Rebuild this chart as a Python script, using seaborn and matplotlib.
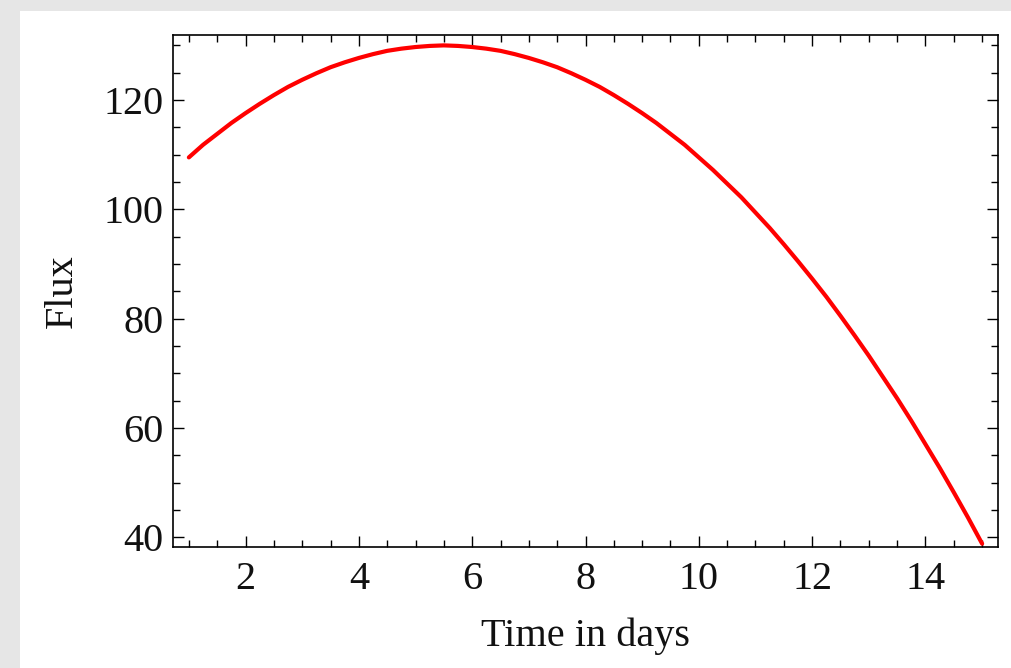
import matplotlib
matplotlib.use("Agg")
import matplotlib.pyplot as plt
from matplotlib.patches import Rectangle
from matplotlib.ticker import MultipleLocator
import seaborn as sns
import pandas as pd

# Data
time_days = [1.0, 1.25, 1.5, 1.75, 2.0, 2.25, 2.5, 2.75, 3.0, 3.25, 3.5, 3.75,
             4.0, 4.25, 4.5, 4.75, 5.0, 5.25, 5.5, 5.75, 6.0, 6.25, 6.5, 6.75,
             7.0, 7.25, 7.5, 7.75, 8.0, 8.25, 8.5, 8.75, 9.0, 9.25, 9.5, 9.75,
             10.0, 10.25, 10.5, 10.75, 11.0, 11.25, 11.5, 11.75, 12.0, 12.25,
             12.5, 12.75, 13.0, 13.25, 13.5, 13.75, 14.0, 14.25, 14.5, 14.75,
             15.0]
flux = [109.5, 111.8, 113.8, 115.8, 117.6, 119.3, 120.9, 122.4, 123.7, 124.9,
        126.0, 126.9, 127.7, 128.4, 129.0, 129.4, 129.7, 129.9, 130.0, 129.9,
        129.7, 129.4, 129.0, 128.4, 127.7, 126.9, 126.0, 124.9, 123.7, 122.4,
        120.9, 119.3, 117.6, 115.8, 113.8, 111.8, 109.5, 107.2, 104.7, 102.2,
        99.4, 96.6, 93.6, 90.5, 87.3, 84.0, 80.5, 76.9, 73.2, 69.3, 65.4,
        61.3, 57.0, 52.7, 48.2, 43.6, 38.8]
x_ticks = [2, 4, 6, 8, 10, 12, 14]
y_ticks = [40, 60, 80, 100, 120]

df = pd.DataFrame({"Time in days": time_days, "Flux": flux})

sns.set_theme(style="ticks")
plt.rcParams["font.family"] = ["Liberation Serif", "DejaVu Serif"]

fig = plt.figure(figsize=(10.12, 6.68), dpi=100)
fig.patch.set_facecolor("#e6e6e6")
fig.add_artist(Rectangle((20 / 1012, 0), 1 - 20 / 1012, 1 - 11 / 668,
                         transform=fig.transFigure, facecolor="white",
                         edgecolor="none", zorder=0))

ax = fig.add_axes([173 / 1012, 121 / 668, (998 - 173) / 1012, (547 - 35) / 668])
ax.set_facecolor("white")

sns.lineplot(data=df, x="Time in days", y="Flux", ax=ax, color="#ff0000",
             linewidth=3.0, estimator=None, sort=False)

ax.set_xlim(0.72, 15.28)
ax.set_ylim(38.2, 131.9)
ax.set_xticks(x_ticks)
ax.set_yticks(y_ticks)
ax.xaxis.set_minor_locator(MultipleLocator(0.5))
ax.yaxis.set_minor_locator(MultipleLocator(5))

for s in ax.spines.values():
    s.set_visible(True)
    s.set_color("black")
    s.set_linewidth(1.2)

ax.tick_params(which="both", direction="in", top=True, right=True,
               color="black", width=1.0)
ax.tick_params(which="major", length=8, labelsize=29, labelcolor="#111111")
ax.tick_params(axis="x", which="major", pad=10)
ax.tick_params(axis="y", which="major", pad=7)
ax.tick_params(which="minor", length=5)

ax.set_xlabel("Time in days", fontsize=29, labelpad=14, color="#111111")
ax.set_ylabel("Flux", fontsize=29, labelpad=16, color="#111111")

fig.savefig("out.png", dpi=100, facecolor=fig.get_facecolor())
